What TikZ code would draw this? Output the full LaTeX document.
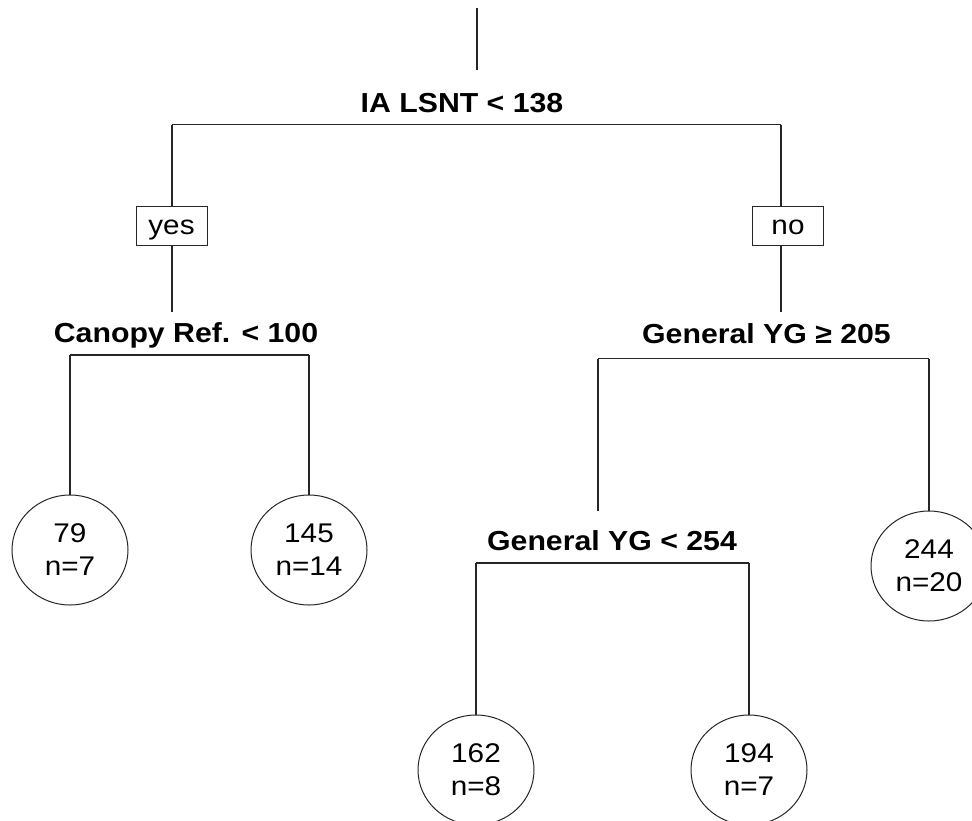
\documentclass[tikz,border=0pt]{standalone}
\usepackage{fontspec}
\setmainfont{Liberation Sans}[FakeStretch=1.1]
\usepackage{tikz}
\usetikzlibrary{positioning,shapes.geometric}

\newcommand{\splitfont}{\fontsize{27.5}{33}\selectfont\bfseries}
\newcommand{\leaffont}{\fontsize{27}{33}\selectfont}

\begin{document}
\begin{tikzpicture}[
    x=1pt, y=-1pt,
    edge/.style={draw=black!85, line width=1.1pt},
    split/.style={anchor=base, inner sep=0pt, font=\splitfont},
    leaf/.style={draw=black!85, line width=1pt, ellipse, inner sep=0pt,
                 minimum width=116pt, minimum height=110pt, align=center, font=\leaffont},
    answer/.style={draw=black!85, fill=white, line width=1pt, inner sep=0pt,
                   text height=20pt, text depth=3pt,
                   minimum width=71pt, minimum height=39pt, font=\leaffont},
  ]
    \useasboundingbox (0,0) rectangle (972,820);

    % Root split
    \coordinate (top) at (477,8);
    \coordinate (iaPos) at (477,70);
    \draw[edge] (top) -- (iaPos);
    \node[split] (ia) at (462,112) {IA LSNT < 138};
    \coordinate (iaL) at (172,124.5);
    \coordinate (iaR) at (781,124.5);
    \coordinate (canopyPos) at (172,312);
    \coordinate (genAPos) at (781,312);
    \draw[edge] (iaL) -- (iaR);
    \draw[edge] (iaL) -- (canopyPos);
    \draw[edge] (iaR) -- (genAPos);
    \node[answer] (yes) at (171.5,225.5) {yes};
    \node[answer] (no) at (788,225.5) {no};

    % Left branch
    \node[split] (canopy) at (186,342) {Canopy Ref. < 100};
    \coordinate (cL) at (70,355);
    \coordinate (cR) at (309,355);
    \draw[edge] (cL) -- (cR);
    \node[leaf] (l79) at (70,550) {79\\n=7};
    \node[leaf] (l145) at (309,550) {145\\n=14};
    \draw[edge] (cL) -- (l79);
    \draw[edge] (cR) -- (l145);

    % Right branch
    \node[split] (genA) at (766.5,343) {General YG ≥ 205};
    \coordinate (gaL) at (598,358.5);
    \coordinate (gaR) at (929,358.5);
    \coordinate (genBPos) at (598,511);
    \draw[edge] (gaL) -- (gaR);
    \draw[edge] (gaL) -- (genBPos);
    \node[leaf] (l244) at (929,566) {244\\n=20};
    \draw[edge] (gaR) -- (l244);

    % Second split on the right
    \node[split] (genB) at (612,550) {General YG < 254};
    \coordinate (gbL) at (476,563);
    \coordinate (gbR) at (749,563);
    \draw[edge] (gbL) -- (gbR);
    \node[leaf] (l162) at (476,770) {162\\n=8};
    \node[leaf] (l194) at (749,770) {194\\n=7};
    \draw[edge] (gbL) -- (l162);
    \draw[edge] (gbR) -- (l194);
  \end{tikzpicture}
\end{document}
